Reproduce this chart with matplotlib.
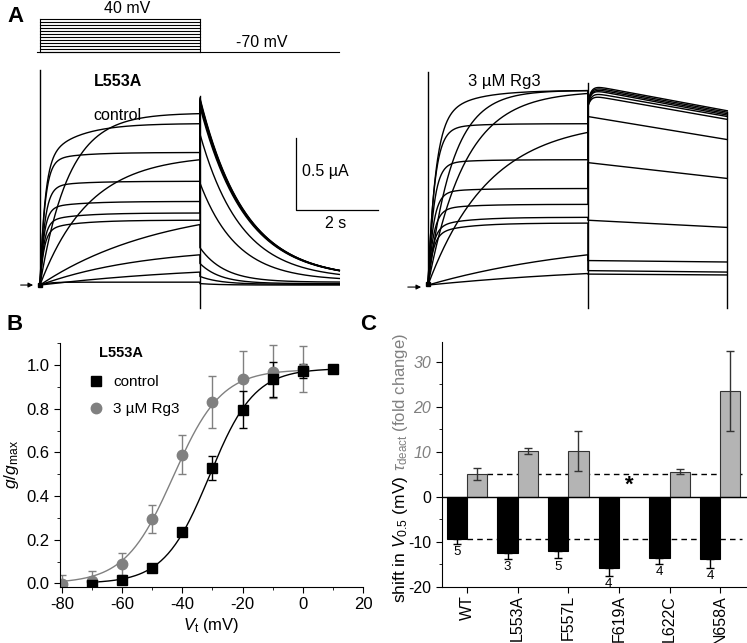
import numpy as np
import matplotlib.pyplot as plt
from matplotlib.lines import Line2D
from matplotlib.ticker import MultipleLocator

plt.rcParams['font.family'] = ['Liberation Sans', 'DejaVu Sans']
plt.rcParams['mathtext.fontset'] = 'custom'
plt.rcParams['mathtext.rm'] = 'Liberation Sans'
plt.rcParams['mathtext.it'] = 'Liberation Sans:italic'
plt.rcParams['mathtext.bf'] = 'Liberation Sans:bold'
plt.rcParams['axes.unicode_minus'] = False

W, H = 747, 643

# ---- panel A: protocol and current traces (uA, s) ----
step_mv = [-70, -60, -50, -40, -30, -20, -10, 0, 10, 20, 30, 40]
hold_mv = -70
t_step = 3.9
t_tail = 3.4

# control (L553A): current at end of step, plateau of fast part, activation tau
ctl_end = [1.19, 1.12, 0.92, 0.87, 0.72, 0.58, 0.50, 0.45, 0.42, 0.21, 0.09, 0.02]
ctl_plat = [1.20, 0.85, 0.86, 0.905, 0.68, 0.53, 0.44, 0.38, 0.58, 0.27, 0.15, 0.02]
ctl_tau = [0.7, 0.12, 0.12, 1.2, 0.12, 0.10, 0.10, 0.10, 3.0, 2.5, 4.0, 0.2]
# tails at -70 mV: start, steady level, decay tau
ctl_tail0 = [1.30, 1.29, 1.28, 1.27, 1.26, 1.24, 1.05, 0.71, 0.26, 0.15, 0.06, 0.01]
ctl_tail_inf = [0.045, 0.045, 0.045, 0.045, 0.045, 0.045, 0.04, 0.03, 0.02, 0.01, 0.005, 0.0]
ctl_tail_tau = [1.1, 1.1, 1.1, 1.1, 1.1, 1.1, 1.0, 0.9, 0.6, 0.5, 0.5, 0.5]
ctl_cap = [1.49, 1.31]

# 3 uM Rg3
rg3_end = [1.35, 1.35, 1.33, 1.12, 1.06, 0.87, 0.67, 0.56, 0.47, 0.43, 0.21, 0.08]
rg3_plat = [1.12, 1.36, 1.40, 1.08, 1.145, 0.84, 0.64, 0.52, 0.40, 0.35, 0.34, 0.15]
rg3_tau = [0.18, 0.6, 0.9, 0.16, 1.5, 0.14, 0.13, 0.13, 0.12, 0.12, 4.0, 5.0]
rg3_tail0 = [1.39, 1.38, 1.37, 1.36, 1.34, 1.32, 1.17, 0.85, 0.45, 0.17, 0.10, 0.076]
rg3_tail1 = [1.21, 1.20, 1.19, 1.18, 1.17, 1.15, 1.01, 0.74, 0.40, 0.16, 0.09, 0.07]
rg3_hook = [0.12, 0.12, 0.12, 0.10, 0.10, 0.08, 0, 0, 0, 0, 0, 0]
rg3_cap = [1.48, 1.40, 1.20]
cap_low = -0.16

# ---- panel B: g/gmax ----
v_ctl = [-70, -60, -50, -40, -30, -20, -10, 0, 10]
g_ctl = [-0.005, 0.015, 0.072, 0.235, 0.53, 0.795, 0.935, 0.975, 0.98]
e_ctl = [0.008, 0.008, 0.008, 0.015, 0.055, 0.085, 0.08, 0.032, 0.012]
v_rg3 = [-80, -70, -60, -50, -40, -30, -20, -10, 0]
g_rg3 = [-0.003, 0.012, 0.09, 0.295, 0.59, 0.83, 0.937, 0.97, 0.983]
e_rg3 = [0.04, 0.045, 0.05, 0.063, 0.088, 0.12, 0.13, 0.12, 0.105]
fit_ctl = (-31.0, 7.5, 0.985)   # V1/2, slope, amplitude
fit_rg3 = (-43.0, 8.0, 0.98)

# ---- panel C ----
mutants = ['WT', 'L553A', 'F557L', 'F619A', 'L622C', 'N658A']
dv = [-9.3, -12.4, -12.0, -15.9, -13.7, -13.9]
dv_err = [1.1, 1.5, 1.7, 1.7, 1.3, 1.9]
tau_fold = [5.0, 10.2, 10.1, np.nan, 5.6, 23.5]
tau_err = [1.3, 0.6, 4.4, np.nan, 0.5, 8.9]
n_cells = [5, 3, 5, 4, 4, 4]


def px_axes(fig, left, top, right, bottom):
    return fig.add_axes([left / W, 1 - bottom / H, (right - left) / W, (bottom - top) / H])


def activation(t, end, plat, tau):
    fast = plat * (1 - np.exp(-t / tau))
    rest = end - plat * (1 - np.exp(-t_step / tau))
    return fast + rest * (1 - np.exp(-t / 0.8)) / (1 - np.exp(-t_step / 0.8))


def boltz(v, p):
    return p[2] / (1 + np.exp((p[0] - v) / p[1]))


fig = plt.figure(figsize=(W / 100, H / 100), dpi=100)

t1 = np.linspace(0, t_step, 400)
t2 = np.linspace(0, t_tail, 300)
lw = 1.0

# protocol
axp = px_axes(fig, 15.4, 10, 384.4, 60)
axp.set_xlim(-0.6, 8.4)
axp.set_ylim(-96.7, 70)
axp.axis('off')
for v in step_mv:
    axp.plot([0, t_step], [v, v], color='k', lw=0.8)
axp.plot([0, 0], [hold_mv, max(step_mv)], color='k', lw=0.8)
axp.plot([t_step, t_step], [hold_mv, max(step_mv)], color='k', lw=0.8)
axp.plot([-0.07, t_step + t_tail], [hold_mv, hold_mv], color='k', lw=0.8)
axp.text(t_step / 2 + 0.17, 50, '40 mV', ha='center', va='bottom', fontsize=11.5)
axp.text(5.41, -62, '-70 mV', ha='center', va='bottom', fontsize=11.5)

# control traces
axl = px_axes(fig, 15.4, 60, 384.4, 315)
axl.set_xlim(-0.6, 8.4)
axl.set_ylim(-0.208, 1.5625)
axl.axis('off')
for i in range(len(ctl_end)):
    i1 = activation(t1, ctl_end[i], ctl_plat[i], ctl_tau[i])
    i2 = ctl_tail_inf[i] + (ctl_tail0[i] - ctl_tail_inf[i]) * np.exp(-t2 / ctl_tail_tau[i])
    axl.plot(np.r_[t1, t_step + t2], np.r_[i1, i2], color='k', lw=lw)
axl.plot([0, 0], [0, ctl_cap[0]], color='k', lw=lw)
axl.plot([t_step, t_step], [cap_low, ctl_cap[1]], color='k', lw=lw)
axl.plot([0], [0], 's', color='k', ms=2.5)
axl.annotate('', xy=(-0.1, 0), xytext=(-0.54, 0),
             arrowprops=dict(arrowstyle='-|>', color='k', lw=0.8, mutation_scale=7))
axl.text(1.9, 1.41, 'L553A', ha='center', va='center', fontsize=11.5, fontweight='bold')
axl.text(1.9, 1.18, 'control', ha='center', va='center', fontsize=11.5)
# scale bar
axl.plot([6.24, 6.24, 8.24], [0.52 + 0.5, 0.52, 0.52], color='k', lw=0.9)
axl.text(6.39, 0.785, '0.5 µA', ha='left', va='center', fontsize=11.5)
axl.text(7.2, 0.43, '2 s', ha='center', va='center', fontsize=11.5)

# Rg3 traces
axr = px_axes(fig, 403.4, 60, 745.75, 315)
axr.set_xlim(-0.6, 7.75)
axr.set_ylim(-0.208, 1.5625)
axr.axis('off')
for i in range(len(rg3_end)):
    i1 = activation(t1, rg3_end[i], rg3_plat[i], rg3_tau[i])
    i2 = rg3_tail0[i] + (rg3_tail1[i] - rg3_tail0[i]) * t2 / t_tail - rg3_hook[i] * np.exp(-t2 / 0.08)
    axr.plot(np.r_[t1, t_step + t2], np.r_[i1, i2], color='k', lw=lw)
axr.plot([0, 0], [0, rg3_cap[0]], color='k', lw=lw)
axr.plot([t_step, t_step], [cap_low, rg3_cap[1]], color='k', lw=lw)
axr.plot([t_step + t_tail, t_step + t_tail], [cap_low, rg3_cap[2]], color='k', lw=lw)
axr.plot([0], [0.01], 's', color='k', ms=2.5)
axr.annotate('', xy=(-0.1, -0.014), xytext=(-0.56, -0.014),
             arrowprops=dict(arrowstyle='-|>', color='k', lw=0.8, mutation_scale=7))
axr.text(1.86, 1.41, '3 µM Rg3', ha='center', va='center', fontsize=12)

# ---- panel B ----
axb = px_axes(fig, 60, 343.3, 363, 586.7)
vv = np.linspace(-80, 0, 200)
axb.plot(vv, boltz(vv, fit_rg3), color='#808080', lw=1.0)
vv = np.linspace(-70, 10, 200)
axb.plot(vv, boltz(vv, fit_ctl), color='k', lw=1.0)
axb.errorbar(v_rg3, g_rg3, yerr=e_rg3, fmt='o', color='#808080', ecolor='#808080',
             ms=7.5, capsize=3, elinewidth=1.0, capthick=1.0)
axb.errorbar(v_ctl, g_ctl, yerr=e_ctl, fmt='s', color='k', ecolor='k',
             ms=6.5, capsize=3, elinewidth=1.0, capthick=1.0)
axb.set_xlim(-80.6, 20)
axb.set_ylim(-0.015, 1.1)
axb.spines['top'].set_visible(False)
axb.spines['right'].set_visible(False)
axb.xaxis.set_major_locator(MultipleLocator(20))
axb.xaxis.set_minor_locator(MultipleLocator(10))
axb.yaxis.set_major_locator(MultipleLocator(0.2))
axb.yaxis.set_minor_locator(MultipleLocator(0.1))
axb.tick_params(which='major', length=4, labelsize=12)
axb.tick_params(which='minor', length=2)
axb.set_yticks(np.arange(0, 1.01, 0.2))
axb.set_yticklabels(['%.1f' % y for y in np.arange(0, 1.01, 0.2)])
axb.set_xlabel('$V_{\\rm t}$ (mV)', fontsize=12, labelpad=3)
axb.set_ylabel('$g/g_{\\rm max}$', fontsize=12.5, labelpad=4)
handles = [Line2D([], [], marker='s', ls='none', color='k', ms=6.5),
           Line2D([], [], marker='o', ls='none', color='#808080', ms=7.5)]
axb.legend(handles, ['control', '3 µM Rg3'], loc='upper left', bbox_to_anchor=(0.094, 0.87),
           frameon=False, handlelength=1, handletextpad=0.6, borderpad=0,
           borderaxespad=0, labelspacing=0.85, fontsize=11)
axb.text(0.201, 0.959, 'L553A', transform=axb.transAxes, ha='center', va='center',
         fontsize=10.5, fontweight='bold')

# ---- panel C ----
axc = px_axes(fig, 441.7, 342.35, 747, 586.7)
x = np.arange(len(mutants))
bw = 0.4
axc.bar(x - bw / 2, dv, bw, color='k', edgecolor='k', lw=0.8, zorder=2)
axc.bar(x + bw / 2, tau_fold, bw, color='#b4b4b4', edgecolor='#333333', lw=0.8, zorder=2)
axc.errorbar(x - bw / 2, dv, yerr=[dv_err, np.zeros(len(dv))], fmt='none', ecolor='k',
             capsize=3, elinewidth=1.0, capthick=1.0, zorder=3)
axc.errorbar(x + bw / 2, tau_fold, yerr=tau_err, fmt='none', ecolor='#333333',
             capsize=3, elinewidth=1.0, capthick=1.0, zorder=3)
axc.axhline(0, color='k', lw=1.0, zorder=4)
axc.hlines(tau_fold[0], bw, 5.43, colors='k', linestyles=(0, (4, 3)), lw=1.0, zorder=1)
axc.hlines(dv[0], 0, 5.43, colors='k', linestyles=(0, (4, 3)), lw=1.0, zorder=1)
for i in range(len(mutants)):
    axc.text(x[i] - bw / 2, dv[i] - dv_err[i] - 0.5, str(n_cells[i]), ha='center', va='top',
             fontsize=9.5)
    if np.isnan(tau_fold[i]):
        axc.text(x[i] + bw / 2, 0.3, '*', ha='center', va='bottom', fontsize=16,
                 fontweight='bold')
axc.set_xlim(-0.5, 5.53)
axc.set_ylim(-20, 34.3)
axc.spines['top'].set_visible(False)
axc.spines['right'].set_visible(False)
axc.set_xticks(x)
axc.set_xticklabels(mutants, rotation=90, fontsize=10.5)
axc.yaxis.set_major_locator(MultipleLocator(10))
axc.yaxis.set_minor_locator(MultipleLocator(5))
axc.tick_params(which='major', length=4, labelsize=11.5)
axc.tick_params(axis='x', pad=2)
axc.tick_params(which='minor', length=2)
yt = [-20, -10, 0, 10, 20, 30]
axc.set_yticks(yt)
axc.set_yticklabels([str(v) for v in yt])
for lbl, v in zip(axc.get_yticklabels(), yt):
    if v > 0:
        lbl.set_color('#808080')
        lbl.set_style('italic')
fig.text(400 / W, 1 - 539 / H, 'shift in $V_{0.5}$ (mV)', rotation=90, ha='center',
         va='center', fontsize=12.5)
fig.text(400 / W, 1 - 402 / H, '$\\tau_{\\rm deact}$ (fold change)', rotation=90, ha='center',
         va='center', fontsize=12, color='#808080')

# panel letters
for lab, px, py in [('A', 15, 16), ('B', 15, 325), ('C', 368, 325)]:
    fig.text(px / W, 1 - py / H, lab, ha='center', va='center', fontsize=16, fontweight='bold')

fig.savefig('out.png', dpi=100)
